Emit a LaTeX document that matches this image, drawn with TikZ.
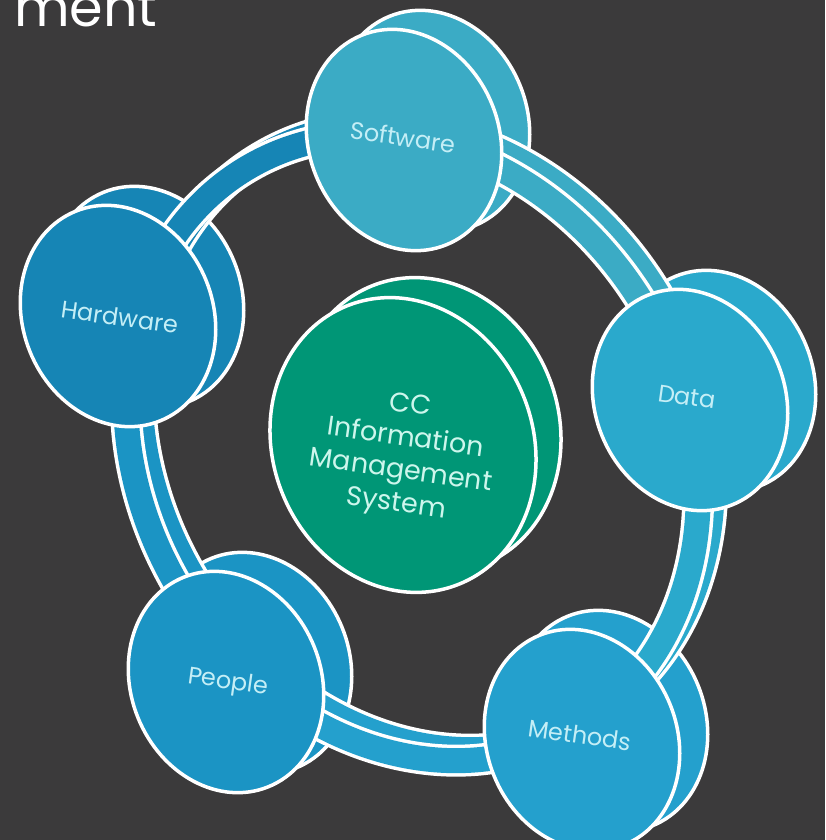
\documentclass[tikz,border=0pt]{standalone}
\usepackage{fontspec}
\setmainfont{Poppins}
\usetikzlibrary{calc}

\definecolor{slide}{RGB}{59,58,59}
\definecolor{swcol}{RGB}{59,171,197}
\definecolor{hwcol}{RGB}{22,133,181}
\definecolor{dtcol}{RGB}{42,169,204}
\definecolor{mtcol}{RGB}{36,160,205}
\definecolor{ppcol}{RGB}{27,148,196}
\definecolor{cccol}{RGB}{0,150,118}
\definecolor{captext}{RGB}{196,238,246}
\definecolor{cctext}{RGB}{205,246,236}

% the closed band that runs behind the five discs
\newcommand\drawband[1]{%
  \draw[#1, rotate around={-60:(412,448)}] (412,448) ellipse [x radius=325, y radius=272];}

\tikzset{
  disc/.style={draw=white, line width=3.5pt},
  disclabel/.style={text=captext, font=\fontsize{24}{29}\selectfont, rotate=-8},
}

\begin{document}
\begin{tikzpicture}[x=1pt, y=-1pt]
  \useasboundingbox (0,0) rectangle (825,840);
  \clip (0,0) rectangle (825,840);
  \fill[slide] (0,0) rectangle (825,840);

  \coordinate (hub) at (412,448);
  \coordinate (sw) at (404,140);
  \coordinate (hw) at (118,316);
  \coordinate (dt) at (690,400);
  \coordinate (mt) at (582,740);
  \coordinate (pp) at (226,682);

  % back faces
  \draw[disc, fill=swcol, rotate around={22:(432,121)}] (432,121) ellipse [x radius=95, y radius=113];
  \draw[disc, fill=hwcol, rotate around={22:(146,297)}] (146,297) ellipse [x radius=95, y radius=113];
  \draw[disc, fill=dtcol, rotate around={22:(718,381)}] (718,381) ellipse [x radius=95, y radius=113];
  \draw[disc, fill=mtcol, rotate around={22:(610,721)}] (610,721) ellipse [x radius=95, y radius=113];
  \draw[disc, fill=ppcol, rotate around={22:(254,663)}] (254,663) ellipse [x radius=95, y radius=113];

  % band, one colour per stretch
  \foreach \a/\b/\c in {hw/sw/hwcol, sw/dt/swcol, dt/mt/dtcol, mt/pp/mtcol, pp/hw/ppcol} {
    \begin{scope}
      \clip (hub) -- ($(hub)!4!(\a)$) -- ($(hub)!4!(\b)$) -- cycle;
      \drawband{draw=white, line width=32pt, shift={(14,-11)}}
      \drawband{draw=\c, line width=25pt, shift={(14,-11)}}
      \drawband{draw=white, line width=32pt}
      \drawband{draw=\c, line width=25pt}
    \end{scope}
  }

  % front faces
  \draw[disc, fill=swcol, rotate around={22:(sw)}] (sw) ellipse [x radius=95, y radius=113];
  \draw[disc, fill=hwcol, rotate around={22:(hw)}] (hw) ellipse [x radius=95, y radius=113];
  \draw[disc, fill=dtcol, rotate around={22:(dt)}] (dt) ellipse [x radius=95, y radius=113];
  \draw[disc, fill=mtcol, rotate around={22:(mt)}] (mt) ellipse [x radius=95, y radius=113];
  \draw[disc, fill=ppcol, rotate around={22:(pp)}] (pp) ellipse [x radius=95, y radius=113];

  % centre disc
  \draw[disc, fill=cccol, rotate around={22:(428,425)}] (428,425) ellipse [x radius=130, y radius=150];
  \draw[disc, fill=cccol, rotate around={22:(403,445)}] (403,445) ellipse [x radius=130, y radius=150];

  \node[disclabel] (software) at (403,137) {Software};
  \node[disclabel] (hardware) at (120,317) {Hardware};
  \node[disclabel] (data) at (687,397) {Data};
  \node[disclabel] (methods) at (580,735) {Methods};
  \node[disclabel] (people) at (228,683) {People};
  \node[disclabel, text=cctext, align=center, font=\fontsize{27}{33}\selectfont] (cims) at (403,456)
    {CC\\Information\\Management\\System};

  \node[anchor=base west, text=white, font=\fontsize{54}{60}\selectfont, inner sep=0pt] (title) at (14,27) {ment};
\end{tikzpicture}
\end{document}
